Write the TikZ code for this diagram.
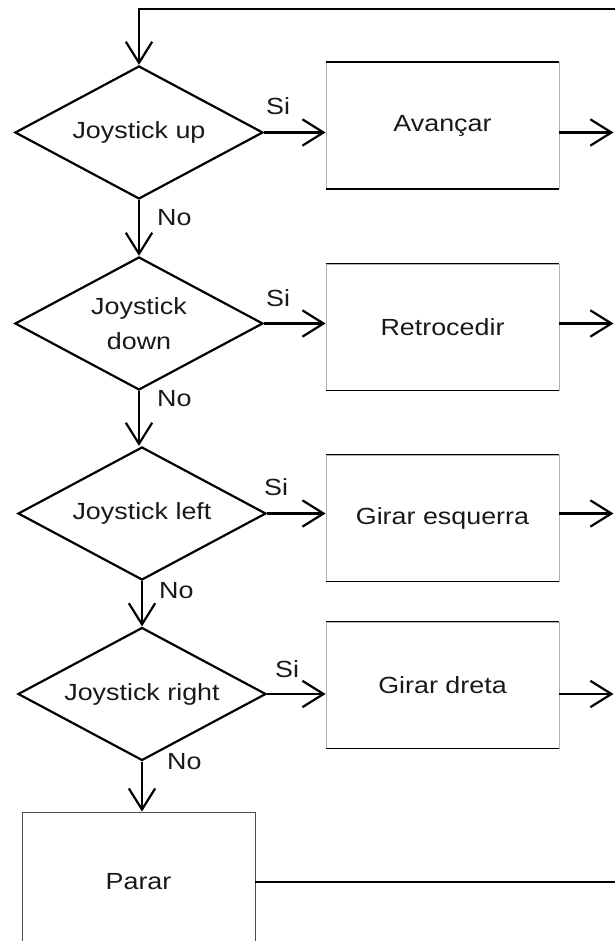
\documentclass[tikz,border=0pt]{standalone}
\usepackage{fontspec}
\setmainfont{Liberation Sans}[FakeStretch=1.15]
\usetikzlibrary{positioning, arrows.meta, shapes.geometric, calc}

\begin{document}
\begin{tikzpicture}[>={Straight Barb[length=12pt,width=15pt]}, line width=1.25pt,
  font=\fontsize{13.3}{20}\selectfont,
  decision/.style={draw, diamond, aspect=1.85, inner sep=0pt, minimum width=4.96cm,
    minimum height=2.66cm, align=center, text=black!90},
  action/.style={draw=gray!60, line width=0.5pt, minimum width=4.66cm,
    minimum height=2.52cm, text=black!90},
  lbl/.style={inner sep=0pt, anchor=base west, text=black!90}]

\useasboundingbox (0,0) rectangle (12.3,18.82);

% ---------- decisions ----------
\node[decision] (up)     at (2.78,16.17) {Joystick up};
\node[decision] (down)   at (2.78,12.35) {Joystick\\down};
\node[decision] (jleft)  at (2.84,8.55)  {Joystick left};
\node[decision] (jright) at (2.84,4.94)  {Joystick right};

% ---------- actions ----------
\node[action] (fwd)   at (8.85,16.31) {Avançar};
\node[action] (back)  at (8.85,12.28) {Retrocedir};
\node[action] (turnl) at (8.85,8.46)  {Girar esquerra};
\node[action] (turnr) at (8.85,5.12)  {Girar dreta};
\node[action, draw=black!70, minimum height=2.8cm] (stop) at (2.77,1.18) {Parar};

% top and bottom edges of the action boxes are darker
\foreach \b in {fwd,back,turnl,turnr}{
  \draw[line width=1pt] (\b.north west) -- (\b.north east)
                        (\b.south west) -- (\b.south east);}

% ---------- loop back to the start ----------
\coordinate (loop) at (12.3,18.64);
\coordinate (edge) at (12.27,0);
\draw[->] (loop) -| (up.north);

% ---------- Si branches ----------
\foreach \d/\b in {up/fwd, down/back, jleft/turnl, jright/turnr}{
  \draw[->] (\d.east) -- (\d.east -| \b.west);
  \draw[->] (\b.east |- \d.east) -- (\d.east -| edge);}

% ---------- No branches ----------
\draw[->] (up.south) -- (down.north);
\draw[->] (down.south) -- (down.south |- jleft.north);
\draw[->] (jleft.south) -- (jright.north);
\draw[->] (jright.south) -- (jright.south |- stop.north);
\draw (stop.east) -- (stop.east -| loop);

% ---------- labels ----------
\node[lbl] (si1) at ($(up.east)+(0.02,0.35)$)     {Si};
\node[lbl] (si2) at ($(down.east)+(0.02,0.33)$)   {Si};
\node[lbl] (si3) at ($(jleft.east)+(-0.08,0.36)$) {Si};
\node[lbl] (si4) at ($(jright.east)+(0.14,0.32)$) {Si};
\node[lbl] (no1) at ($(up.south)+(0.34,-0.5)$)     {No};
\node[lbl] (no2) at ($(down.south)+(0.34,-0.3)$)   {No};
\node[lbl] (no3) at ($(jleft.south)+(0.32,-0.34)$) {No};
\node[lbl] (no4) at ($(jright.south)+(0.48,-0.16)$) {No};

\end{tikzpicture}
\end{document}
